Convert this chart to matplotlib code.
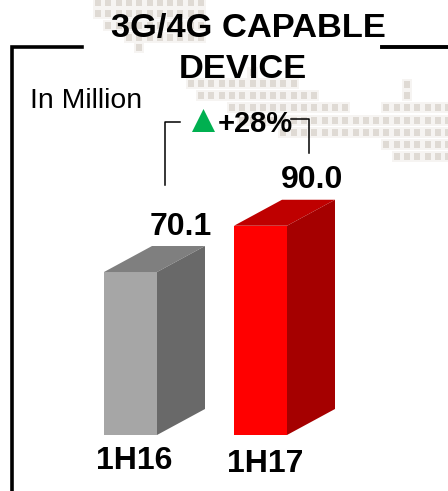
import matplotlib
matplotlib.use("Agg")
import matplotlib.pyplot as plt
from matplotlib.patches import Polygon, Rectangle

plt.rcParams['font.family'] = ['Liberation Sans', 'DejaVu Sans']

categories = ['1H16', '1H17']
values = [70.1, 90.0]
front_colors = ['#a6a6a6', '#ff0000']
top_colors = ['#7f7f7f', '#bf0000']
side_colors = ['#696969', '#a50000']
growth_label = '+28%'

# map rows behind the chart: y, first column, last column (column 0 is at x=407, pitch 10.3)
map_rows = [
    (2, -30, -20), (13, -30, -20), (25, -29, -20), (37, -27, -20), (47, -26, -26),
    (72, -15, -15), (83, -21, -11), (95, -20, -9), (84, 0, 0), (95, 0, 0),
    (107, -17, -6), (107, -2, 4), (120, -16, 4), (132, -12, 4), (144, -2, 4), (156, -1, 4),
]

W, H = 448, 491
PX_PER_UNIT = 2.325
BASE_Y = 435
BAR_X = [104, 234]
BAR_W = 53
DEPTH_X, DEPTH_Y = 48, 26

fig = plt.figure(figsize=(W / 100, H / 100), dpi=100)
ax = fig.add_axes([0, 0, 1, 1])
ax.set_xlim(0, W)
# y is in millions, baseline sits at pixel row 435
ax.set_ylim(-(H - BASE_Y) / PX_PER_UNIT, BASE_Y / PX_PER_UNIT)
ax.axis('off')


def row(py):
    return (BASE_Y - py) / PX_PER_UNIT


# background map dots, with the pale halo the scaled-up picture has
for py, c0, c1 in map_rows:
    for c in range(c0, c1 + 1):
        x = 407 + c * 10.3
        ax.add_patch(Rectangle((x - 5.15, row(py + 5.5)), 10.3, 11 / PX_PER_UNIT, fc='#f6f4f2', ec='none', zorder=1))
for py, c0, c1 in map_rows:
    for c in range(c0, c1 + 1):
        x = 407 + c * 10.3
        ax.add_patch(Rectangle((x - 3, row(py + 3.5)), 6, 7 / PX_PER_UNIT, fc='#dfdad4', ec='none', zorder=1.5))

# bars, front face from the library, top and side faces on top of it
dy = DEPTH_Y / PX_PER_UNIT
label_x = [134, 265]
label_y = [469, 472]
for i, v in enumerate(values):
    x = BAR_X[i]
    ax.bar(x, v, width=BAR_W, align='edge', color=front_colors[i], zorder=3)
    ax.add_patch(Polygon([(x, v), (x + BAR_W, v), (x + BAR_W + DEPTH_X, v + dy), (x + DEPTH_X, v + dy)],
                         closed=True, fc=top_colors[i], ec='none', zorder=3))
    ax.add_patch(Polygon([(x + BAR_W, 0), (x + BAR_W + DEPTH_X, dy), (x + BAR_W + DEPTH_X, v + dy), (x + BAR_W, v)],
                         closed=True, fc=side_colors[i], ec='none', zorder=3))
    ax.text(label_x[i], row(label_y[i]), categories[i], fontsize=23, fontweight='bold',
            ha='center', va='baseline', zorder=5)

# value labels
ax.text(181, row(235), f'{values[0]:.1f}', fontsize=23, fontweight='bold', ha='center', va='baseline', zorder=5)
ax.text(312, row(188), f'{values[1]:.1f}', fontsize=23, fontweight='bold', ha='center', va='baseline', zorder=5)

# title and frame
ax.text(248, row(37), '3G/4G CAPABLE', fontsize=24.8, fontweight='bold', ha='center', va='baseline', zorder=5)
ax.text(243, row(78), 'DEVICE', fontsize=24.8, fontweight='bold', ha='center', va='baseline', zorder=5)
ax.text(30, row(108), 'In Million', fontsize=20.4, ha='left', va='baseline', zorder=5)
ax.plot([12, 12, 82], [row(491), row(47), row(47)], color='black', lw=2.6, solid_joinstyle='miter', zorder=4)
ax.plot([382, 448], [row(47), row(47)], color='black', lw=2.8, zorder=4)

# growth bracket
ax.plot([165, 165, 180], [row(185), row(122), row(122)], color='black', lw=1.1, zorder=4)
ax.plot([291, 309, 309], [row(118.5), row(118.5), row(153)], color='black', lw=1.1, zorder=4)
ax.add_patch(Polygon([(192, row(132)), (215, row(132)), (203.5, row(109))], closed=True, fc='#00b050', ec='none', zorder=5))
ax.text(218, row(132), growth_label, fontsize=21, fontweight='bold', ha='left', va='baseline', zorder=5)

fig.savefig('out.png', dpi=100)
